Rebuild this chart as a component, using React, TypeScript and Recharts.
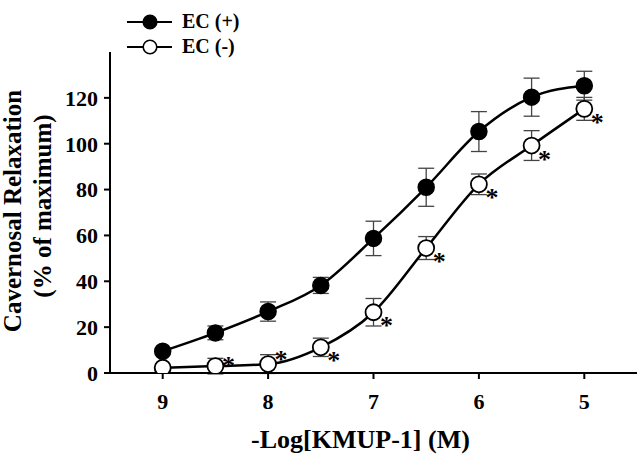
import React from "react";
import {
  LineChart,
  Line,
  XAxis,
  YAxis,
  ErrorBar,
  LabelList,
  Label,
  Legend,
} from "recharts";

// -Log[KMUP-1] (M)
const doses = [9, 8.5, 8, 7.5, 7, 6.5, 6, 5.5, 5];
const ecPlus = [9.5, 17.5, 26.8, 38.2, 58.7, 81, 105.3, 120.3, 125.3];
const ecPlusErr = [0.8, 3, 4.2, 3.5, 7.5, 8.3, 8.7, 8.3, 6.3];
const ecMinus = [2.3, 3, 3.9, 11.2, 26.5, 54.5, 82.3, 99.2, 115.2];
const ecMinusErr = [0.5, 3.4, 4.1, 4, 6, 5, 4.5, 6.5, 5];
const significant = [false, true, true, true, true, true, true, true, true];
const xTicks = [9, 8, 7, 6, 5];
const yTicks = [0, 20, 40, 60, 80, 100, 120];

const data = doses.map((d, i) => ({
  dose: d,
  plus: ecPlus[i],
  plusErr: ecPlusErr[i],
  minus: ecMinus[i],
  minusErr: ecMinusErr[i],
  sig: significant[i] ? 1 : 0,
}));

const FONT = "'Liberation Serif', 'Times New Roman', serif";

const tickStyle = { fontFamily: FONT, fontWeight: 700, fontSize: 22, fill: "#000" };

function Star(props: any) {
  const { x, y, value, index } = props;
  if (!value) return null;
  const dy = index === 1 ? -6 : index === 2 ? -10 : 8;
  return (
    <text
      x={x + 13}
      y={y + dy + 14}
      textAnchor="middle"
      fontFamily={FONT}
      fontWeight={700}
      fontSize={26}
      fill="#000"
    >
      *
    </text>
  );
}

function YTitle(props: any) {
  const cy = 211;
  return (
    <g fontFamily={FONT} fontWeight={700} fontSize={25} fill="#000">
      <text x={21} y={cy} transform={`rotate(-90 21 ${cy})`} textAnchor="middle">
        Cavernosal Relaxation
      </text>
      <text x={51} y={cy - 5} transform={`rotate(-90 51 ${cy - 5})`} textAnchor="middle">
        (% of maximum)
      </text>
    </g>
  );
}

function LegendBox() {
  const rows = [
    { label: "EC (+)", fill: "#000" },
    { label: "EC (-)", fill: "#fff" },
  ];
  return (
    <div style={{ fontFamily: FONT, fontWeight: 700, fontSize: 20, color: "#000" }}>
      {rows.map((r) => (
        <div key={r.label} style={{ display: "flex", alignItems: "center", height: 25 }}>
          <svg width={46} height={16} style={{ marginRight: 9 }}>
            <line x1={0} y1={8} x2={45} y2={8} stroke="#000" strokeWidth={2} />
            <circle cx={23} cy={8} r={6.8} fill={r.fill} stroke="#000" strokeWidth={1.6} />
          </svg>
          <span>{r.label}</span>
        </div>
      ))}
    </div>
  );
}

export default function App() {
  return (
    <div style={{ position: "absolute", left: 0, top: 0, width: 640, height: 459, background: "#fff" }}>
      <LineChart
        width={640}
        height={459}
        data={data}
        margin={{ top: 2, right: 3, bottom: 0, left: 0 }}
      >
        <XAxis
          dataKey="dose"
          type="number"
          domain={[4.5, 9.5]}
          reversed
          ticks={xTicks}
          height={86}
          tick={tickStyle}
          tickSize={6}
          tickMargin={14}
          axisLine={{ stroke: "#000", strokeWidth: 2 }}
          tickLine={{ stroke: "#000", strokeWidth: 2 }}
          allowDataOverflow
        >
          <Label
            value="-Log[KMUP-1] (M)"
            position="insideBottom"
            offset={11}
            dx={-13}
            style={{ fontFamily: FONT, fontWeight: 700, fontSize: 26, fill: "#000" }}
          />
        </XAxis>
        <YAxis
          type="number"
          domain={[0, 140]}
          ticks={yTicks}
          width={110}
          tick={tickStyle}
          tickSize={6}
          tickMargin={6}
          axisLine={{ stroke: "#000", strokeWidth: 2 }}
          tickLine={{ stroke: "#000", strokeWidth: 2 }}
          allowDataOverflow
        >
          <Label content={<YTitle />} />
        </YAxis>
        <Legend
          verticalAlign="top"
          align="left"
          content={<LegendBox />}
          wrapperStyle={{ position: "absolute", top: 9, left: 127, width: 160 }}
        />
        <Line
          dataKey="plus"
          type="monotone"
          stroke="#000"
          strokeWidth={2.5}
          dot={{ r: 8, fill: "#000", stroke: "#000", strokeWidth: 1.5 }}
          activeDot={false}
          isAnimationActive={false}
          legendType="none"
        >
          <ErrorBar dataKey="plusErr" width={8} stroke="#444" strokeWidth={1.3} direction="y" />
        </Line>
        <Line
          dataKey="minus"
          type="monotone"
          stroke="#000"
          strokeWidth={2.5}
          dot={{ r: 8, fill: "#fff", stroke: "#000", strokeWidth: 1.8 }}
          activeDot={false}
          isAnimationActive={false}
          legendType="none"
        >
          <ErrorBar dataKey="minusErr" width={8} stroke="#444" strokeWidth={1.3} direction="y" />
          <LabelList dataKey="sig" content={<Star />} />
        </Line>
      </LineChart>
    </div>
  );
}
